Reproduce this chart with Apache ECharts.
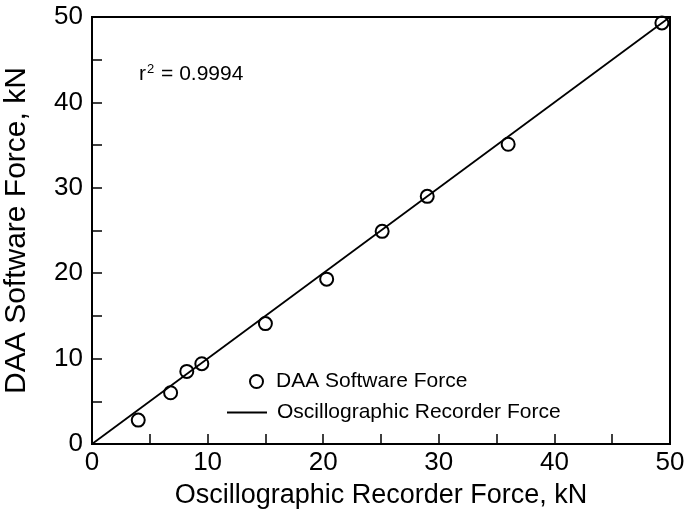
<!DOCTYPE html>
<html>
<head>
<meta charset="utf-8">
<script src="https://cdn.jsdelivr.net/npm/echarts@6/dist/echarts.min.js"></script>
<style>
  html, body { margin: 0; padding: 0; background: #fff; }
  #chart { width: 686px; height: 514px; }
</style>
</head>
<body>
<div id="chart"></div>
<script>
// DAA vs oscillograph force
const oscForce = [4.0, 6.8, 8.2, 9.5, 15.0, 20.3, 25.1, 29.0, 36.0, 49.3];
const daaForce = [2.8, 6.0, 8.5, 9.4, 14.1, 19.3, 24.9, 29.0, 35.1, 49.3];
const fitLine = [[0, 0], [50, 50]];
const rSquared = '0.9994';

const FONT = "'Liberation Sans', Arial, sans-serif";

const chart = echarts.init(document.getElementById('chart'));

const option = {
  backgroundColor: '#fff',
  animation: false,
  textStyle: { fontFamily: FONT, color: '#000' },
  grid: {
    left: 92, right: 16, top: 17, bottom: 70,
    containLabel: false,
    outerBoundsMode: 'none',
    show: true,
    borderColor: '#000',
    borderWidth: 2
  },
  xAxis: {
    type: 'value',
    min: 0, max: 50, interval: 5,
    name: 'Oscillographic Recorder Force, kN',
    nameLocation: 'middle',
    nameGap: 38,
    nameTextStyle: { fontSize: 27, color: '#000', fontFamily: FONT },
    axisLine: { lineStyle: { color: '#000', width: 2 } },
    axisTick: { inside: true, length: 10, lineStyle: { color: '#000', width: 1.5 } },
    axisLabel: {
      margin: 6, fontSize: 26, color: '#000', fontFamily: FONT,
      formatter: v => (v % 10 === 0 ? v : '')
    },
    splitLine: { show: false }
  },
  yAxis: {
    type: 'value',
    min: 0, max: 50, interval: 5,
    name: 'DAA Software Force, kN',
    nameLocation: 'middle',
    nameGap: 60,
    nameTextStyle: { fontSize: 30, color: '#000', fontFamily: FONT },
    axisLine: { lineStyle: { color: '#000', width: 2 } },
    axisTick: { inside: true, length: 10, lineStyle: { color: '#000', width: 1.5 } },
    axisLabel: {
      margin: 9, fontSize: 26, color: '#000', fontFamily: FONT,
      formatter: v => (v % 10 === 0 ? v : '')
    },
    splitLine: { show: false }
  },
  legend: [
    {
      data: [{ name: 'DAA Software Force', icon: 'circle' }],
      left: 244, top: 366,
      itemWidth: 13, itemHeight: 13,
      itemStyle: { color: '#fff', borderColor: '#000', borderWidth: 2 },
      textStyle: { fontSize: 21, color: '#000', fontFamily: FONT, padding: [0, 0, 0, 8] }
    },
    {
      data: [{ name: 'Oscillographic Recorder Force', icon: 'rect' }],
      left: 222, top: 397,
      itemWidth: 40, itemHeight: 2,
      itemStyle: { color: '#000', borderWidth: 0 },
      textStyle: { fontSize: 21, color: '#000', fontFamily: FONT, padding: [0, 0, 0, 5] }
    }
  ],
  graphic: [
    {
      type: 'text',
      left: 139, top: 63,
      style: {
        text: '{r|r}{s|2}{r| = ' + rSquared + '}',
        rich: {
          r: { fontSize: 21, fontFamily: FONT, fill: '#000', verticalAlign: 'bottom' },
          s: { fontSize: 13, fontFamily: FONT, fill: '#000', verticalAlign: 'top', padding: [0, 1, 9, 1] }
        }
      }
    }
  ],
  series: [
    {
      name: 'Oscillographic Recorder Force',
      type: 'line',
      data: fitLine,
      showSymbol: false,
      symbol: 'none',
      lineStyle: { color: '#000', width: 1.8 },
      itemStyle: { color: '#000' },
      z: 2
    },
    {
      name: 'DAA Software Force',
      type: 'scatter',
      data: oscForce.map((x, i) => [x, daaForce[i]]),
      symbol: 'circle',
      symbolSize: 13,
      itemStyle: { color: 'rgba(255,255,255,0)', borderColor: '#000', borderWidth: 2, opacity: 1 },
      z: 3
    }
  ]
};

chart.setOption(option);
</script>
</body>
</html>
